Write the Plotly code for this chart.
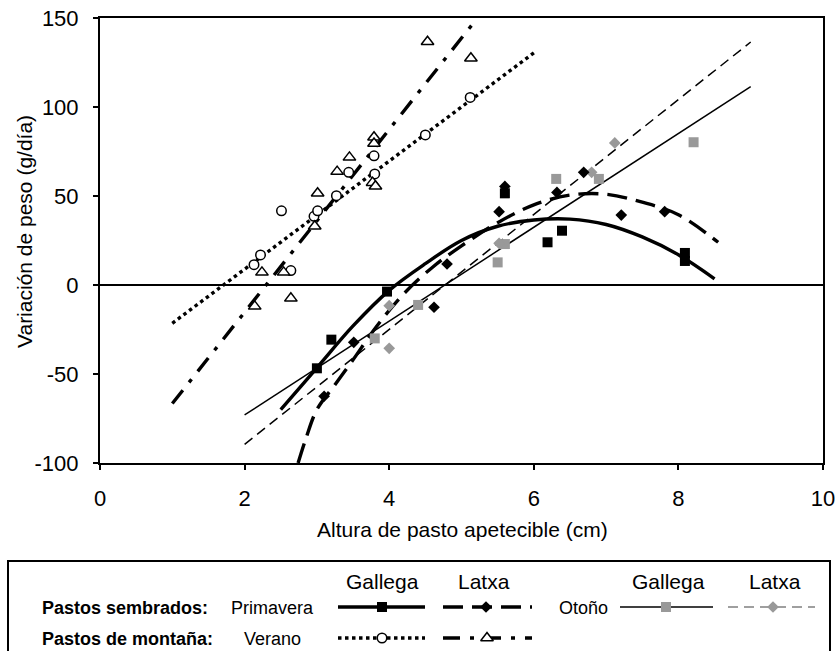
import plotly.graph_objects as go

W, H = 839, 651

# ---- Pastos sembrados, primavera ----
prim_gallega_x = [3.00, 3.20, 3.97, 5.60, 6.19, 6.39, 8.09, 8.09]
prim_gallega_y = [-46.8, -30.7, -3.7, 51.5, 24.0, 30.5, 18.0, 13.5]
prim_latxa_x = [3.10, 3.51, 4.62, 4.80, 5.52, 5.60, 6.32, 6.69, 7.21, 7.81]
prim_latxa_y = [-62.5, -32.2, -12.5, 11.8, 41.2, 55.4, 52.0, 63.3, 39.3, 41.2]

# ---- Pastos sembrados, otoño ----
oto_gallega_x = [3.80, 4.40, 5.50, 5.60, 6.31, 6.90, 8.21]
oto_gallega_y = [-30.0, -11.2, 12.7, 23.0, 59.6, 59.6, 80.2]
oto_latxa_x = [4.00, 4.00, 5.52, 6.80, 7.12]
oto_latxa_y = [-11.6, -35.6, 23.4, 63.3, 79.8]

# ---- Pastos de montaña, verano ----
ver_gallega_x = [2.13, 2.22, 2.51, 2.64, 2.96, 3.01, 3.27, 3.44, 3.79, 3.80, 4.50, 5.12]
ver_gallega_y = [11.4, 16.9, 41.7, 8.1, 38.6, 41.7, 50.2, 63.3, 72.6, 62.4, 84.3, 105.4]
ver_latxa_x = [2.14, 2.24, 2.54, 2.64, 2.97, 3.01, 3.28, 3.45, 3.79, 3.79, 3.77, 3.81, 4.53, 5.13]
ver_latxa_y = [-12.0, 7.1, 7.1, -7.5, 33.0, 51.5, 63.7, 71.7, 83.0, 79.5, 57.5, 55.5, 136.7, 127.4]

# ---- Trend lines ----
tl_prim_gallega_x = [2.5, 3.0, 3.5, 4.0, 4.5, 5.0, 5.5, 6.0, 6.5, 7.0, 7.5, 8.0, 8.5]
tl_prim_gallega_y = [-70, -46.5, -23, -3, 12, 25, 33, 36.5, 37, 34, 27, 17, 3.5]
tl_prim_latxa_x = [2.74, 2.85, 3.0, 3.25, 3.5, 3.83, 4.2, 4.6, 5.0, 5.5, 6.0, 6.5, 7.0, 7.5, 8.0, 8.55]
tl_prim_latxa_y = [-100, -86, -70, -56, -42, -23, -5, 10, 22, 35, 45, 50.5, 51, 46.5, 39.5, 24]
tl_oto_gallega_x = [2.0, 9.0]
tl_oto_gallega_y = [-73.0, 111.5]
tl_oto_latxa_x = [2.0, 9.0]
tl_oto_latxa_y = [-89.5, 136.5]
tl_ver_gallega_x = [1.0, 6.02]
tl_ver_gallega_y = [-21.5, 131.0]
tl_ver_latxa_x = [1.0, 5.22]
tl_ver_latxa_y = [-66.6, 150.0]

x_ticks = [0, 2, 4, 6, 8, 10]
x_tick_text = ["0", "2", "4", "6", "8", "10"]
y_ticks = [-100, -50, 0, 50, 100, 150]
y_tick_text = ["-100", "-50", "0", "50", "100", "150"]

FONT = "Liberation Sans, Arial, sans-serif"
GRAY = "#999999"

# line / marker styles per series
styles = {
    "prim_gallega": dict(line=dict(color="black", width=3.4, dash="solid"),
                         marker=dict(symbol="square", size=10, color="black")),
    "prim_latxa": dict(line=dict(color="black", width=3.4, dash="20px,9px"),
                       marker=dict(symbol="diamond", size=9, color="black")),
    "oto_gallega": dict(line=dict(color="black", width=1.5, dash="solid"),
                        marker=dict(symbol="square", size=10, color=GRAY)),
    "oto_latxa": dict(line=dict(color="black", width=1.5, dash="10px,6px"),
                      marker=dict(symbol="diamond", size=9, color=GRAY)),
    "ver_gallega": dict(line=dict(color="black", width=3.4, dash="3.5px,3.5px"),
                        marker=dict(symbol="circle", size=9.5, color="white",
                                    line=dict(color="black", width=1.5))),
    "ver_latxa": dict(line=dict(color="black", width=3.4, dash="17px,10px,4px,10px"),
                      marker=dict(symbol="triangle-up", size=11, color="white",
                                  line=dict(color="black", width=1.5))),
}

fig = go.Figure()

# trend lines
lines = [
    ("oto_gallega", tl_oto_gallega_x, tl_oto_gallega_y, "linear"),
    ("oto_latxa", tl_oto_latxa_x, tl_oto_latxa_y, "linear"),
    ("ver_gallega", tl_ver_gallega_x, tl_ver_gallega_y, "linear"),
    ("ver_latxa", tl_ver_latxa_x, tl_ver_latxa_y, "linear"),
    ("prim_gallega", tl_prim_gallega_x, tl_prim_gallega_y, "spline"),
    ("prim_latxa", tl_prim_latxa_x, tl_prim_latxa_y, "spline"),
]
for key, xs, ys, shape in lines:
    ln = dict(styles[key]["line"])
    ln["shape"] = shape
    fig.add_trace(go.Scatter(x=xs, y=ys, mode="lines", line=ln,
                             showlegend=False, hoverinfo="skip"))

# observed points
points = [
    ("ver_gallega", ver_gallega_x, ver_gallega_y),
    ("ver_latxa", ver_latxa_x, ver_latxa_y),
    ("oto_gallega", oto_gallega_x, oto_gallega_y),
    ("oto_latxa", oto_latxa_x, oto_latxa_y),
    ("prim_gallega", prim_gallega_x, prim_gallega_y),
    ("prim_latxa", prim_latxa_x, prim_latxa_y),
]
for key, xs, ys in points:
    fig.add_trace(go.Scatter(x=xs, y=ys, mode="markers", marker=styles[key]["marker"],
                             showlegend=False, cliponaxis=False))

# ---- custom legend panel (pixel-based axes x2/y2) ----
legend_samples = [
    # key, row y, x start, x end, marker x, line colour override
    ("prim_gallega", 607, 338, 425, 382, None),
    ("prim_latxa", 607, 443, 532, 486, None),
    ("oto_gallega", 607, 620, 713, 666, None),
    ("oto_latxa", 607, 728, 815, 773, "#808080"),
    ("ver_gallega", 638, 338, 425, 382, None),
    ("ver_latxa", 638, 443, 532, 487, None),
]
for key, ry, xa, xb, xm, col in legend_samples:
    ln = dict(styles[key]["line"])
    if col:
        ln["color"] = col
    fig.add_trace(go.Scatter(x=[xa, xb], y=[ry, ry], mode="lines", line=ln,
                             xaxis="x2", yaxis="y2", showlegend=False, hoverinfo="skip"))
    fig.add_trace(go.Scatter(x=[xm], y=[ry], mode="markers", marker=styles[key]["marker"],
                             xaxis="x2", yaxis="y2", showlegend=False, hoverinfo="skip"))

legend_texts = [
    ("Gallega", 382, 581, "center", 21),
    ("Latxa", 484, 581, "center", 21),
    ("Gallega", 668, 581, "center", 21),
    ("Latxa", 775, 581, "center", 21),
    ("<b>Pastos sembrados:</b>", 40, 608, "left", 18),
    ("Primavera", 272, 608, "center", 18),
    ("Otoño", 583, 608, "center", 18),
    ("<b>Pastos de montaña:</b>", 40, 639, "left", 18),
    ("Verano", 272, 639, "center", 18),
]
annotations = []
for txt, ax, ay, anchor, sz in legend_texts:
    annotations.append(dict(text=txt, x=ax, y=ay, xref="x2", yref="y2",
                            xanchor=anchor, yanchor="middle", showarrow=False,
                            font=dict(family=FONT, size=sz, color="black")))

# axis titles
annotations.append(dict(text="Altura de pasto apetecible (cm)", x=462 / W, y=1 - 529 / H,
                        xref="paper", yref="paper", xanchor="center", yanchor="middle",
                        showarrow=False, font=dict(family=FONT, size=21, color="black")))
annotations.append(dict(text="Variación de peso (g/día)", x=25 / W, y=1 - 232 / H,
                        xref="paper", yref="paper", xanchor="center", yanchor="middle",
                        textangle=-90, showarrow=False,
                        font=dict(family=FONT, size=21, color="black")))

axis_common = dict(showgrid=False, showline=True, linecolor="black", linewidth=2,
                   mirror=True, ticks="outside", ticklen=5, tickwidth=2, tickcolor="black",
                   automargin=False, tickmode="array",
                   tickfont=dict(family=FONT, size=22, color="black"))

fig.update_layout(
    width=W, height=H,
    margin=dict(l=0, r=0, t=0, b=0, autoexpand=False),
    paper_bgcolor="white", plot_bgcolor="white",
    showlegend=False,
    xaxis=dict(domain=[100 / W, 823 / W], range=[0, 10], tickvals=x_ticks,
               ticktext=x_tick_text, zeroline=False, anchor="y",
               ticklabelstandoff=10, **axis_common),
    yaxis=dict(domain=[1 - 463 / H, 1 - 18 / H], range=[-100, 150], tickvals=y_ticks,
               ticktext=y_tick_text, zeroline=True, zerolinecolor="black",
               zerolinewidth=1.5, anchor="x", ticklabelstandoff=10, **axis_common),
    xaxis2=dict(domain=[0, 1], range=[0, W], visible=False, anchor="y2", fixedrange=True),
    yaxis2=dict(domain=[0, 100 / H], range=[H, H - 100], visible=False, anchor="x2",
                fixedrange=True),
    annotations=annotations,
    shapes=[dict(type="rect", xref="paper", yref="paper",
                 x0=8 / W, x1=830 / W, y0=-0.05, y1=1 - 561 / H,
                 line=dict(color="black", width=2), fillcolor="rgba(0,0,0,0)")],
)

fig.write_html("out.html")
